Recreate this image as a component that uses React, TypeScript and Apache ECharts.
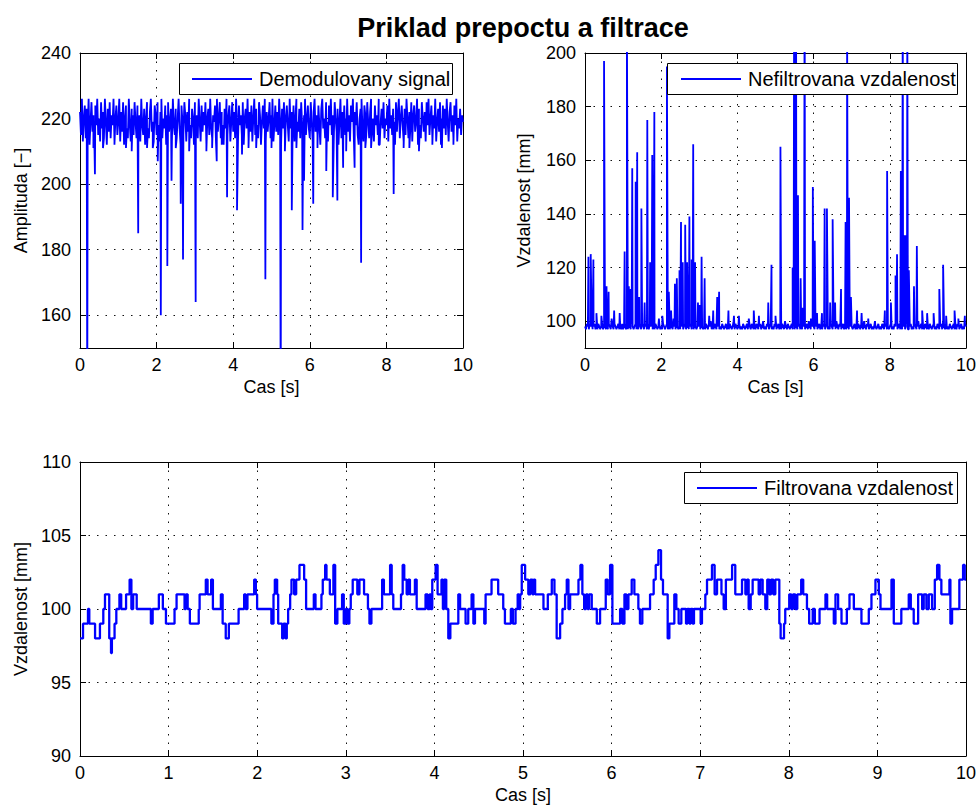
import { useEffect, useRef } from 'react';
import * as echarts from 'echarts';

const FONT = '"Liberation Sans", Arial, Helvetica, sans-serif';
const BLUE = '#0000ff';

// sampling step of the noisy base signals [s]
const sampleStep = 0.025;

// Demodulated signal amplitude - base noise band
const demodBase = [
  222,215,226,213,220,224,214,223,217,226,212,219,225,216,221,213,224,218,226,215,
  220,213,225,217,222,214,226,219,212,223,216,225,214,221,218,226,213,220,224,215,
  219,226,213,222,216,225,212,220,224,217,214,226,218,213,223,221,215,225,219,214,
  224,216,221,213,226,218,215,223,212,220,225,217,214,222,226,216,219,213,224,221,
  215,225,218,213,222,226,214,220,217,224,212,221,225,216,219,223,213,226,218,215,
  223,214,220,226,217,212,224,219,215,225,221,213,222,216,226,218,214,223,220,212,
  225,217,221,214,226,219,213,224,216,222,218,225,212,220,223,215,226,217,214,221,
  219,224,213,226,216,220,225,214,222,218,212,223,217,226,215,221,224,213,219,225,
  216,222,214,226,219,213,224,218,221,215,225,212,220,223,217,226,214,222,216,224,
  213,220,226,215,223,218,214,225,221,212,219,224,217,226,213,222,216,220,225,214,
  221,226,213,218,224,216,222,215,226,219,212,223,217,225,214,220,224,218,213,226,
  217,222,215,224,213,220,226,219,216,223,214,225,218,212,221,226,215,220,224,217,
  214,225,219,213,222,226,216,221,215,224,218,212,223,226,217,220,214,225,219,213,
  224,218,226,215,221,213,225,220,216,223,212,219,226,214,222,217,224,215,220,226,
  216,221,213,224,219,226,214,222,218,225,215,212,220,223,226,217,213,224,221,215,
  225,219,214,222,226,216,220,213,224,218,221,215,226,212,219,223,217,225,214,220,
  218,224,213,226,217,221,215,223,219,212,225,216,222,226,214,220,224,218,213,223,
  215,226,220,214,222,217,225,213,221,224,216,219,226,212,223,218,214,225,220,216,
  222,213,225,218,226,215,220,224,214,221,217,226,213,219,223,216,225,212,220,224,
  217,223,215,226,219,213,222,225,216,221,214,224,218,226,213,220,217,223,215,221,
  219,
];

// Demodulated signal - downward drop-outs [t, value]
const demodDrops: [number, number][] = [
  [0.19, 130], [0.35, 211], [0.39, 203], [0.6, 211], [0.9, 212], [1.2, 211], [1.35, 210],
  [1.52, 185], [1.75, 211], [1.9, 211], [2.03, 207], [2.11, 160], [2.28, 175], [2.39, 201],
  [2.5, 211], [2.63, 194], [2.69, 177], [2.85, 210], [3.02, 164], [3.3, 210], [3.45, 211],
  [3.57, 207], [3.7, 212], [3.84, 196], [4.1, 192], [4.23, 209], [4.4, 211], [4.6, 211],
  [4.84, 171], [5.0, 211], [5.24, 125], [5.35, 210], [5.53, 192], [5.65, 211], [5.81, 186],
  [5.85, 201], [6.09, 194], [6.2, 211], [6.43, 204], [6.6, 196], [6.72, 195], [6.87, 205],
  [6.95, 210], [7.17, 205], [7.34, 176], [7.45, 211], [7.6, 211], [7.8, 212], [8.19, 197],
  [8.45, 211], [8.6, 211], [8.85, 210], [9.2, 212], [9.45, 211], [9.75, 212],
];

// Unfiltered distance - base noise band [mm]
const rawBase = [
  98,97,99,98,97,99,98,100,97,98,99,97,98,97,99,98,97,98,99,97,
  98,99,97,98,97,99,98,97,101,98,97,99,98,97,98,99,97,98,97,99,
  97,98,99,97,98,97,100,98,97,99,98,97,98,99,97,98,97,99,98,97,
  99,98,97,98,99,97,98,97,99,98,100,97,98,97,99,98,97,98,99,97,
  98,97,99,98,97,98,99,97,98,97,99,98,97,101,98,97,99,98,97,98,
  97,99,98,97,98,99,97,98,100,97,98,99,97,98,97,99,98,97,98,99,
  98,97,99,98,97,98,97,99,98,97,99,98,100,97,98,97,99,98,97,98,
  99,97,98,97,99,98,97,98,99,97,98,97,99,98,97,98,100,97,99,98,
  97,98,99,97,98,97,99,98,97,98,99,97,101,98,97,99,98,97,98,97,
  99,98,97,98,99,97,98,100,97,98,97,99,98,97,98,99,97,98,97,99,
  98,97,98,99,97,98,97,99,98,97,100,98,97,99,98,97,98,99,97,98,
  97,99,98,97,98,99,97,98,97,99,98,97,98,99,97,100,98,97,99,98,
  98,97,99,98,97,98,99,97,98,97,99,98,97,98,99,97,98,97,99,98,
  97,98,99,97,100,98,97,99,98,97,98,99,97,98,97,99,98,97,98,99,
  98,97,98,99,97,98,97,99,98,97,99,98,97,100,98,97,99,98,97,98,
  99,97,98,97,99,98,97,98,99,97,98,97,99,98,97,98,99,97,98,97,
  98,99,97,98,97,99,98,100,97,98,99,97,98,97,99,98,97,98,99,97,
  97,98,99,97,98,97,99,98,97,98,100,97,98,99,97,98,97,99,98,97,
  98,97,99,98,97,98,99,97,98,97,99,98,97,98,99,97,100,98,97,99,
  97,98,97,99,98,97,98,99,97,98,97,99,98,97,98,99,97,98,97,99,
  98,
];

// Unfiltered distance - spikes [t, value]
const rawSpikes: [number, number][] = [
  [0.09, 124], [0.15, 125], [0.22, 123], [0.3, 103], [0.43, 102], [0.5, 197], [0.565, 113],
  [0.62, 111], [0.765, 104], [0.91, 103], [1.04, 126], [1.1, 215], [1.15, 113], [1.2, 112],
  [1.24, 157], [1.33, 152], [1.37, 163], [1.42, 109], [1.48, 142], [1.565, 107], [1.635, 175],
  [1.71, 122], [1.765, 162], [1.82, 178], [1.94, 101], [2.03, 102], [2.15, 195], [2.2, 111],
  [2.26, 104], [2.36, 114], [2.41, 116], [2.48, 119], [2.52, 137], [2.565, 122], [2.63, 136],
  [2.68, 122], [2.74, 139], [2.8, 123], [2.84, 166], [2.89, 122], [2.965, 107], [3.01, 106],
  [3.06, 124], [3.14, 116], [3.26, 102], [3.365, 104], [3.47, 109], [3.52, 111], [3.765, 104],
  [3.91, 102], [4.04, 102], [4.43, 104], [4.565, 102], [4.81, 107], [4.895, 121], [5.0, 102],
  [5.13, 165], [5.45, 120], [5.49, 230], [5.54, 220], [5.59, 147], [5.66, 116], [5.71, 105],
  [5.765, 240], [5.93, 101], [5.98, 150], [6.03, 130], [6.09, 103], [6.22, 103], [6.29, 142],
  [6.35, 142], [6.435, 107], [6.5, 138], [6.565, 107], [6.72, 112], [6.84, 137], [6.88, 210],
  [6.93, 146], [6.98, 109], [7.14, 104], [7.26, 103], [7.435, 101], [7.61, 100], [7.87, 104],
  [7.93, 156], [8.03, 107], [8.15, 117], [8.19, 125], [8.29, 156], [8.34, 225], [8.39, 132],
  [8.435, 132], [8.46, 215], [8.5, 119], [8.635, 113], [8.71, 128], [8.85, 104], [8.98, 103],
  [9.15, 103], [9.3, 112], [9.4, 121], [9.48, 102], [9.7, 104], [9.8, 101], [9.97, 102],
];

// Filtered distance - held values [t, value]
const filtSteps: [number, number][] = [
  [0,98],[0.034,99],[0.09,100],[0.105,99],[0.17,98],[0.225,99],[0.263,100],[0.282,101],[0.33,98],[0.35,97],
  [0.36,98],[0.39,99],[0.41,100],[0.445,101],[0.465,100],[0.52,101],[0.56,102],[0.58,100],[0.6,101],[0.64,100],
  [0.8,99],[0.82,100],[0.89,101],[0.935,100],[0.97,99],[1.067,100],[1.09,101],[1.18,100],[1.195,101],[1.215,100],
  [1.24,99],[1.34,100],[1.35,101],[1.42,102],[1.44,101],[1.48,102],[1.5,100],[1.59,101],[1.61,99],[1.645,98],
  [1.68,99],[1.79,100],[1.853,101],[1.87,100],[1.89,101],[1.966,102],[1.985,101],[1.999,100],[2.16,99],[2.184,101],
  [2.199,102],[2.225,101],[2.237,99],[2.282,98],[2.297,99],[2.32,98],[2.334,99],[2.349,100],[2.372,101],[2.387,102],
  [2.417,101],[2.44,102],[2.477,103],[2.53,102],[2.552,100],[2.639,101],[2.658,100],[2.725,101],[2.74,102],[2.767,103],
  [2.782,102],[2.82,101],[2.86,103],[2.88,99],[2.905,100],[2.958,101],[2.977,99],[3.0,100],[3.02,99],[3.04,100],
  [3.056,101],[3.078,102],[3.13,101],[3.154,102],[3.206,101],[3.25,100],[3.267,99],[3.289,100],[3.41,102],[3.43,101],
  [3.5,103],[3.518,101],[3.536,100],[3.623,101],[3.642,103],[3.66,102],[3.687,101],[3.705,102],[3.724,101],[3.78,102],
  [3.8,100],[3.9,101],[3.924,100],[3.946,101],[3.96,100],[3.976,102],[4.014,103],[4.036,101],[4.08,102],[4.096,100],
  [4.11,102],[4.134,100],[4.157,98],[4.18,99],[4.27,101],[4.29,100],[4.352,99],[4.382,100],[4.42,101],[4.44,99],
  [4.458,100],[4.563,99],[4.578,101],[4.645,102],[4.72,101],[4.777,100],[4.796,99],[4.863,100],[4.886,99],[4.916,100],
  [4.94,101],[4.955,100],[4.968,101],[4.986,103],[5.024,102],[5.06,101],[5.084,102],[5.107,101],[5.12,102],[5.137,101],
  [5.231,100],[5.28,101],[5.325,102],[5.355,101],[5.38,98],[5.419,99],[5.445,100],[5.475,101],[5.494,102],[5.513,100],
  [5.532,101],[5.626,102],[5.648,103],[5.67,101],[5.69,100],[5.712,101],[5.73,100],[5.746,101],[5.776,100],[5.833,99],
  [5.87,100],[5.934,102],[5.956,101],[5.983,103],[6.009,99],[6.096,100],[6.122,99],[6.145,101],[6.167,100],[6.19,101],
  [6.227,102],[6.257,101],[6.302,100],[6.32,99],[6.347,100],[6.434,101],[6.475,102],[6.498,103],[6.528,104],[6.558,102],
  [6.58,101],[6.633,98],[6.652,99],[6.708,101],[6.731,100],[6.757,99],[6.787,100],[6.84,99],[6.855,100],[6.878,99],
  [6.893,100],[6.915,99],[6.93,100],[7.005,99],[7.02,100],[7.058,101],[7.077,102],[7.133,103],[7.163,101],[7.19,102],
  [7.24,101],[7.265,100],[7.29,102],[7.36,103],[7.396,101],[7.472,102],[7.51,101],[7.528,102],[7.547,100],[7.57,101],
  [7.592,102],[7.66,101],[7.678,102],[7.705,101],[7.735,100],[7.757,102],[7.78,101],[7.8,102],[7.825,101],[7.848,102],
  [7.893,99],[7.908,98],[7.946,99],[7.96,100],[8.005,101],[8.028,100],[8.047,101],[8.073,100],[8.096,101],[8.14,102],
  [8.163,101],[8.205,100],[8.23,99],[8.27,100],[8.294,99],[8.347,100],[8.414,101],[8.433,100],[8.508,99],[8.527,101],
  [8.557,100],[8.595,99],[8.655,100],[8.685,101],[8.734,100],[8.82,99],[8.903,100],[8.933,101],[8.978,102],[9.016,101],
  [9.035,100],[9.159,102],[9.185,99],[9.27,100],[9.354,101],[9.377,100],[9.41,99],[9.46,101],[9.505,100],[9.523,101],
  [9.553,100],[9.58,101],[9.617,100],[9.648,102],[9.674,103],[9.7,102],[9.722,101],[9.813,102],[9.824,99],[9.843,100],
  [9.925,102],[9.967,103],[9.986,102],[10,102],
];

const demodTicks = [160, 180, 200, 220, 240];
const rawTicks = [100, 120, 140, 160, 180, 200];

function merge(base: number[], extra: [number, number][]): [number, number][] {
  const pts: [number, number][] = base.map((v, i) => [Math.round(i * sampleStep * 1000) / 1000, v]);
  return pts.concat(extra).sort((a, b) => a[0] - b[0]);
}

const labelStyle = { color: '#000', fontSize: 18, fontFamily: FONT };
const axisLine = { show: true, onZero: false, lineStyle: { color: '#000', width: 1 } };
const tickStyle = { show: true, inside: true, length: 6, lineStyle: { color: '#000', width: 1 } };
const gridLine = { show: true, lineStyle: { color: '#111', width: 1, type: [1.5, 7] as any } };

function makeX(grid: number, interval: number) {
  return [
    {
      type: 'value', gridIndex: grid, min: 0, max: 10, interval, position: 'bottom',
      axisLine, axisTick: tickStyle,
      axisLabel: { ...labelStyle, margin: 8 },
      splitLine: gridLine,
      name: 'Cas [s]', nameLocation: 'middle', nameGap: 30,
      nameTextStyle: { ...labelStyle },
    },
    {
      type: 'value', gridIndex: grid, min: 0, max: 10, interval, position: 'top',
      axisLine, axisTick: tickStyle, axisLabel: { show: false }, splitLine: { show: false },
    },
  ];
}

function makeY(grid: number, min: number, max: number, name: string, nameGap: number, ticks?: number[], interval?: number) {
  const custom = ticks ? { customValues: ticks } : {};
  const base: any = { type: 'value', gridIndex: grid, min, max };
  if (interval) base.interval = interval;
  return [
    {
      ...base, position: 'left', axisLine,
      axisTick: { ...tickStyle, ...custom },
      axisLabel: { ...labelStyle, margin: 9, ...custom },
      splitLine: gridLine,
      name, nameLocation: 'middle', nameGap, nameTextStyle: { ...labelStyle },
    },
    {
      ...base, position: 'right', axisLine,
      axisTick: { ...tickStyle, ...custom },
      axisLabel: { show: false, ...custom }, splitLine: { show: false },
    },
  ];
}

function legendBox(x: number, y: number, w: number, lineX1: number, lineX2: number, textX: number, text: string) {
  const cy = y + 15.5;
  return [
    { type: 'rect', shape: { x, y, width: w, height: 31 }, style: { fill: '#fff', stroke: '#000', lineWidth: 1 }, z: 100 },
    { type: 'line', shape: { x1: lineX1, y1: cy, x2: lineX2, y2: cy }, style: { stroke: BLUE, lineWidth: 2 }, z: 101 },
    {
      type: 'text', x: textX, y: cy, z: 101,
      style: { text, font: `20px ${FONT}`, fill: '#000', align: 'left', verticalAlign: 'middle', textAlign: 'left', textVerticalAlign: 'middle' },
    },
  ];
}

export default function App() {
  const ref = useRef<HTMLDivElement>(null);
  useEffect(() => {
    if (!ref.current) return;
    const chart = echarts.init(ref.current, null, { renderer: 'svg' });
    const option: any = {
      animation: false,
      backgroundColor: '#fff',
      textStyle: { fontFamily: FONT },
      grid: [
        { left: 80, top: 53, width: 383, height: 295, show: false },
        { left: 585, top: 53, width: 382, height: 295, show: false },
        { left: 80, top: 462, width: 887, height: 295, show: false },
      ],
      xAxis: [...makeX(0, 2), ...makeX(1, 2), ...makeX(2, 1)],
      yAxis: [
        ...makeY(0, 150, 240, 'Amplituda [−]', 50, demodTicks),
        ...makeY(1, 90, 200, 'Vzdalenost [mm]', 52, rawTicks),
        ...makeY(2, 90, 110, 'Vzdalenost [mm]', 50, undefined, 5),
      ],
      series: [
        {
          name: 'Demodulovany signal', type: 'line', xAxisIndex: 0, yAxisIndex: 0,
          data: merge(demodBase, demodDrops), showSymbol: false, symbol: 'none', clip: true,
          lineStyle: { color: BLUE, width: 1.8 }, itemStyle: { color: BLUE },
        },
        {
          name: 'Nefiltrovana vzdalenost', type: 'line', xAxisIndex: 2, yAxisIndex: 2,
          data: merge(rawBase, rawSpikes), showSymbol: false, symbol: 'none', clip: true,
          lineStyle: { color: BLUE, width: 1.8 }, itemStyle: { color: BLUE },
        },
        {
          name: 'Filtrovana vzdalenost', type: 'line', xAxisIndex: 4, yAxisIndex: 4,
          data: filtSteps, step: 'end', showSymbol: false, symbol: 'none', clip: true,
          lineStyle: { color: BLUE, width: 2.3 }, itemStyle: { color: BLUE },
        },
      ],
      graphic: [
        {
          type: 'text', x: 523, y: 28,
          style: {
            text: 'Priklad prepoctu a filtrace', font: `bold 27px ${FONT}`, fill: '#000',
            align: 'center', verticalAlign: 'middle', textAlign: 'center', textVerticalAlign: 'middle',
          },
        },
        ...legendBox(179.5, 63.5, 273, 192, 252, 259, 'Demodulovany signal'),
        ...legendBox(667.5, 63.5, 290, 681, 741, 748, 'Nefiltrovana vzdalenost'),
        ...legendBox(684.5, 472.5, 273, 697, 757, 764, 'Filtrovana vzdalenost'),
      ],
    };
    chart.setOption(option);
    return () => chart.dispose();
  }, []);
  return (
    <div
      ref={ref}
      style={{ position: 'absolute', left: 0, top: 0, width: 979, height: 805, background: '#fff' }}
    />
  );
}
